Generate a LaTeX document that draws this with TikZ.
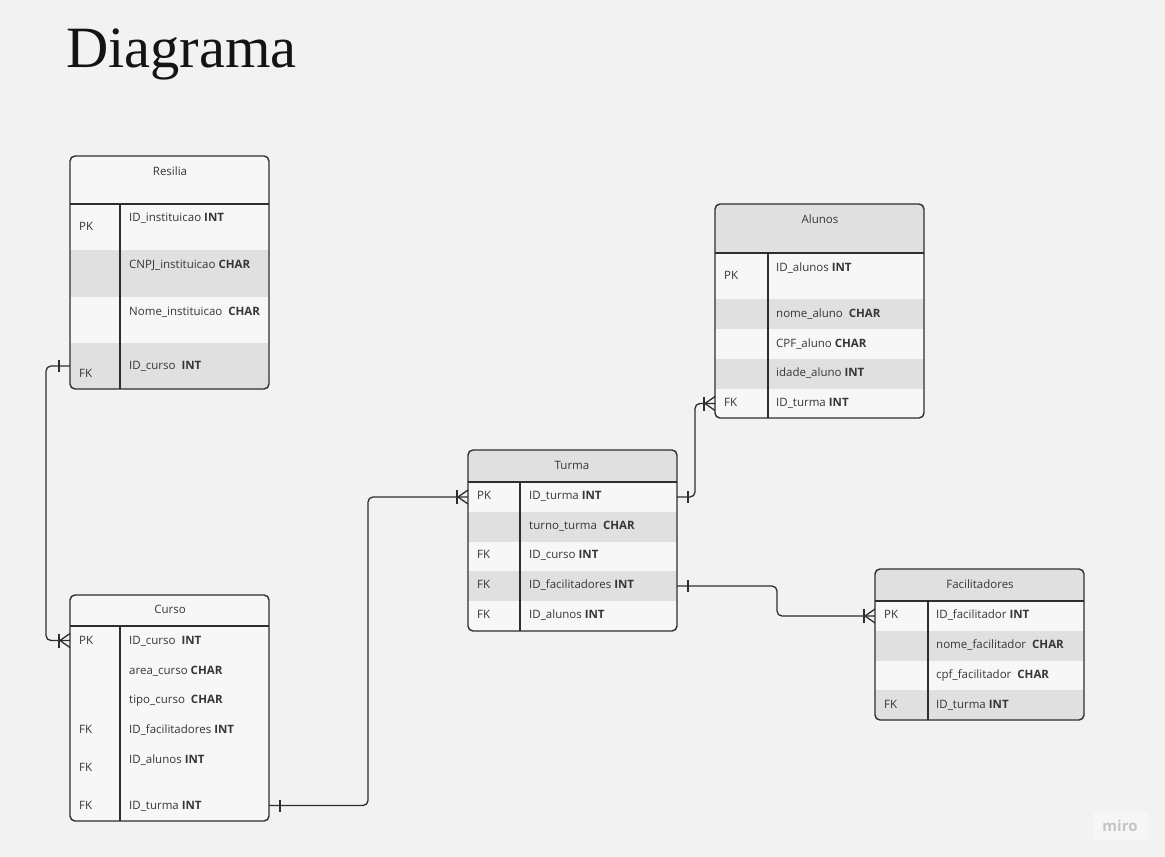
\documentclass[tikz,border=0pt]{standalone}
\usepackage{fontspec}
\setmainfont{Open Sans}
\newfontfamily\titlefont{Liberation Serif}
\usetikzlibrary{calc}
\definecolor{bg}{HTML}{F2F2F2}
\definecolor{cell}{HTML}{F7F7F7}
\definecolor{stripe}{HTML}{E0E0E0}
\definecolor{ink}{HTML}{2E2E2E}
\definecolor{txt}{HTML}{363636}
\definecolor{logo}{HTML}{C4C4C4}
\definecolor{logobg}{HTML}{F6F6F6}
\newcommand\onebar[2]{\draw[tick] ($(#1)+(#2,-6)$) -- ++(0,12);}
\newcommand\crowfoot[1]{%
  \draw[tick] ($(#1)+(-11,-7)$) -- ++(0,14);
  \draw[tick] ($(#1)+(0,-7)$) -- ($(#1)+(-10,0)$) -- ($(#1)+(0,7)$);}
\begin{document}
\begin{tikzpicture}[x=1pt,y=-1pt,
  frame/.style={draw=ink, line width=1.4pt, rounded corners=5pt, anchor=north west, inner sep=0pt, outer sep=0pt},
  rule/.style={draw=ink, line width=1.4pt},
  rowbox/.style={anchor=north west, inner sep=0pt, outer sep=0pt},
  fld/.style={anchor=base west, inner sep=0pt, text=txt, font=\fontsize{11.5}{13}\selectfont},
  hdr/.style={anchor=base, inner sep=0pt, text=txt, font=\fontsize{11.5}{13}\selectfont},
  conn/.style={draw=ink, line width=1.3pt, rounded corners=5pt},
  tick/.style={draw=ink, line width=1.3pt}]
\useasboundingbox (0,0) rectangle (1165,857);
\fill[bg] (0,0) rectangle (1165,857);

\node[anchor=base west, inner sep=0pt, text=black!92, font=\titlefont\fontsize{58.5}{62}\selectfont] (title) at (66,67) {Diagrama};

% ---------------- Resilia ----------------
\begin{scope}
\clip[rounded corners=5pt] (70,156) rectangle (269,389);
\node[rowbox, fill=cell, minimum width=199pt, minimum height=48pt] (resH) at (70,156) {};
\node[rowbox, fill=cell, minimum width=199pt, minimum height=46pt] (resR1) at (70,204) {};
\node[rowbox, fill=stripe, minimum width=199pt, minimum height=47pt] (resR2) at (70,250) {};
\node[rowbox, fill=cell, minimum width=199pt, minimum height=46pt] (resR3) at (70,297) {};
\node[rowbox, fill=stripe, minimum width=199pt, minimum height=46pt] (resR4) at (70,343) {};
\end{scope}
\node[frame, minimum width=199pt, minimum height=233pt] (res) at (70,156) {};
\draw[rule] (resH.south west) -- (resH.south east);
\draw[rule] (120,204) -- (120,389);
\node[hdr] (resT) at (170,175) {Resilia};
\node[fld] (resK1) at (79,230) {PK};
\node[fld] (resF1) at (129,221) {ID\_instituicao \textbf{INT}};
\node[fld] (resF2) at (129,268) {CNPJ\_instituicao \textbf{CHAR}};
\node[fld] (resF3) at (129,315) {Nome\_instituicao\ \ \textbf{CHAR}};
\node[fld] (resF4) at (129,369) {ID\_curso\ \ \textbf{INT}};
\node[fld] (resK4) at (79,377) {FK};

% ---------------- Alunos ----------------
\begin{scope}
\clip[rounded corners=5pt] (715,204) rectangle (924,418);
\node[rowbox, fill=stripe, minimum width=209pt, minimum height=49pt] (aluH) at (715,204) {};
\node[rowbox, fill=cell, minimum width=209pt, minimum height=46pt] (aluR1) at (715,253) {};
\node[rowbox, fill=stripe, minimum width=209pt, minimum height=30pt] (aluR2) at (715,299) {};
\node[rowbox, fill=cell, minimum width=209pt, minimum height=30pt] (aluR3) at (715,329) {};
\node[rowbox, fill=stripe, minimum width=209pt, minimum height=30pt] (aluR4) at (715,359) {};
\node[rowbox, fill=cell, minimum width=209pt, minimum height=29pt] (aluR5) at (715,389) {};
\end{scope}
\node[frame, minimum width=209pt, minimum height=214pt] (alu) at (715,204) {};
\draw[rule] (aluH.south west) -- (aluH.south east);
\draw[rule] (768,253) -- (768,418);
\node[hdr] (aluT) at (820,223) {Alunos};
\node[fld] (aluK1) at (724,279) {PK};
\node[fld] (aluF1) at (776,271) {ID\_alunos \textbf{INT}};
\node[fld] (aluF2) at (776,317) {nome\_aluno\ \ \textbf{CHAR}};
\node[fld] (aluF3) at (776,347) {CPF\_aluno \textbf{CHAR}};
\node[fld] (aluF4) at (776,376) {idade\_aluno \textbf{INT}};
\node[fld] (aluK5) at (724,406) {FK};
\node[fld] (aluF5) at (776,406) {ID\_turma \textbf{INT}};

% ---------------- Turma ----------------
\begin{scope}
\clip[rounded corners=5pt] (468,450) rectangle (677,631);
\node[rowbox, fill=stripe, minimum width=209pt, minimum height=32pt] (turH) at (468,450) {};
\node[rowbox, fill=cell, minimum width=209pt, minimum height=30pt] (turR1) at (468,482) {};
\node[rowbox, fill=stripe, minimum width=209pt, minimum height=30pt] (turR2) at (468,512) {};
\node[rowbox, fill=cell, minimum width=209pt, minimum height=29pt] (turR3) at (468,542) {};
\node[rowbox, fill=stripe, minimum width=209pt, minimum height=30pt] (turR4) at (468,571) {};
\node[rowbox, fill=cell, minimum width=209pt, minimum height=30pt] (turR5) at (468,601) {};
\end{scope}
\node[frame, minimum width=209pt, minimum height=181pt] (tur) at (468,450) {};
\draw[rule] (turH.south west) -- (turH.south east);
\draw[rule] (520,482) -- (520,631);
\node[hdr] (turT) at (572,469) {Turma};
\node[fld] (turK1) at (477,499) {PK};
\node[fld] (turF1) at (529,499) {ID\_turma \textbf{INT}};
\node[fld] (turF2) at (529,529) {turno\_turma\ \ \textbf{CHAR}};
\node[fld] (turK3) at (477,558) {FK};
\node[fld] (turF3) at (529,558) {ID\_curso \textbf{INT}};
\node[fld] (turK4) at (477,588) {FK};
\node[fld] (turF4) at (529,588) {ID\_facilitadores \textbf{INT}};
\node[fld] (turK5) at (477,618) {FK};
\node[fld] (turF5) at (529,618) {ID\_alunos \textbf{INT}};

% ---------------- Curso ----------------
\begin{scope}
\clip[rounded corners=5pt] (70,595) rectangle (269,821);
\node[rowbox, fill=cell, minimum width=199pt, minimum height=31pt] (curH) at (70,595) {};
\node[rowbox, fill=cell, minimum width=199pt, minimum height=29pt] (curR1) at (70,626) {};
\node[rowbox, fill=cell, minimum width=199pt, minimum height=29pt] (curR2) at (70,655) {};
\node[rowbox, fill=cell, minimum width=199pt, minimum height=30pt] (curR3) at (70,684) {};
\node[rowbox, fill=cell, minimum width=199pt, minimum height=30pt] (curR4) at (70,714) {};
\node[rowbox, fill=cell, minimum width=199pt, minimum height=46pt] (curR5) at (70,744) {};
\node[rowbox, fill=cell, minimum width=199pt, minimum height=31pt] (curR6) at (70,790) {};
\end{scope}
\node[frame, minimum width=199pt, minimum height=226pt] (cur) at (70,595) {};
\draw[rule] (curH.south west) -- (curH.south east);
\draw[rule] (120,626) -- (120,821);
\node[hdr] (curT) at (170,613) {Curso};
\node[fld] (curK1) at (79,644) {PK};
\node[fld] (curF1) at (129,644) {ID\_curso\ \ \textbf{INT}};
\node[fld] (curF2) at (129,674) {area\_curso \textbf{CHAR}};
\node[fld] (curF3) at (129,703) {tipo\_curso\ \ \textbf{CHAR}};
\node[fld] (curK4) at (79,733) {FK};
\node[fld] (curF4) at (129,733) {ID\_facilitadores \textbf{INT}};
\node[fld] (curF5) at (129,763) {ID\_alunos \textbf{INT}};
\node[fld] (curK5) at (79,771) {FK};
\node[fld] (curK6) at (79,809) {FK};
\node[fld] (curF6) at (129,809) {ID\_turma \textbf{INT}};

% ---------------- Facilitadores ----------------
\begin{scope}
\clip[rounded corners=5pt] (875,569) rectangle (1084,720);
\node[rowbox, fill=stripe, minimum width=209pt, minimum height=32pt] (facH) at (875,569) {};
\node[rowbox, fill=cell, minimum width=209pt, minimum height=30pt] (facR1) at (875,601) {};
\node[rowbox, fill=stripe, minimum width=209pt, minimum height=30pt] (facR2) at (875,631) {};
\node[rowbox, fill=cell, minimum width=209pt, minimum height=29pt] (facR3) at (875,661) {};
\node[rowbox, fill=stripe, minimum width=209pt, minimum height=30pt] (facR4) at (875,690) {};
\end{scope}
\node[frame, minimum width=209pt, minimum height=151pt] (fac) at (875,569) {};
\draw[rule] (facH.south west) -- (facH.south east);
\draw[rule] (928,601) -- (928,720);
\node[hdr] (facT) at (980,588) {Facilitadores};
\node[fld] (facK1) at (884,618) {PK};
\node[fld] (facF1) at (936,618) {ID\_facilitador \textbf{INT}};
\node[fld] (facF2) at (936,648) {nome\_facilitador\ \ \textbf{CHAR}};
\node[fld] (facF3) at (936,678) {cpf\_facilitador\ \ \textbf{CHAR}};
\node[fld] (facK4) at (884,708) {FK};
\node[fld] (facF4) at (936,708) {ID\_turma \textbf{INT}};

% ---------------- Connectors ----------------
\draw[conn] (resR4.west) -- ++(-24,0) |- (curR1.west);
\onebar{resR4.west}{-11}
\crowfoot{curR1.west}

\draw[conn] (turR1.east) -- ++(18,0) |- (aluR5.west);
\onebar{turR1.east}{11}
\crowfoot{aluR5.west}

\draw[conn] (turR4.east) -- ++(100,0) |- (facR1.west);
\onebar{turR4.east}{11}
\crowfoot{facR1.west}

\draw[conn] (curR6.east) -- ++(99,0) |- (turR1.west);
\onebar{curR6.east}{11}
\crowfoot{turR1.west}

% ---------------- logo ----------------
\node[fill=logobg, text=logo, minimum width=55pt, minimum height=28pt, inner sep=0pt,
      font=\fontsize{15}{15}\selectfont\bfseries] (miro) at (1120,826) {miro};
\end{tikzpicture}
\end{document}
